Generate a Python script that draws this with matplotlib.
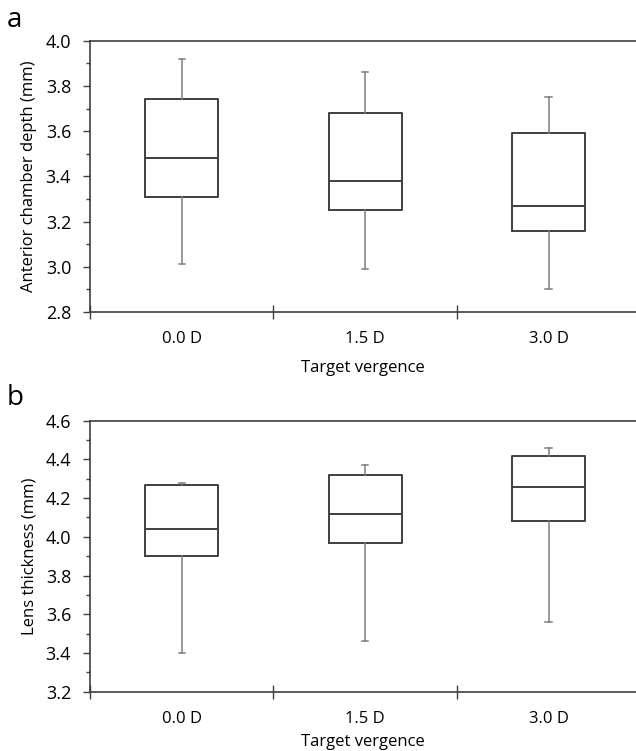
import matplotlib
matplotlib.use('Agg')
import matplotlib.pyplot as plt
from matplotlib.ticker import MultipleLocator, FixedLocator, NullFormatter

plt.rcParams['font.family'] = ['Open Sans', 'DejaVu Sans']

categories = ['0.0 D', '1.5 D', '3.0 D']

# anterior chamber depth (mm): whisker low, Q1, median, Q3, whisker high
acd_low = [3.01, 2.99, 2.90]
acd_q1 = [3.31, 3.25, 3.16]
acd_med = [3.48, 3.38, 3.27]
acd_q3 = [3.74, 3.68, 3.59]
acd_high = [3.92, 3.86, 3.75]

# lens thickness (mm)
lt_low = [3.40, 3.46, 3.56]
lt_q1 = [3.90, 3.97, 4.08]
lt_med = [4.04, 4.12, 4.26]
lt_q3 = [4.27, 4.32, 4.42]
lt_high = [4.28, 4.37, 4.46]

box_col = '#3f3f3f'
whisk_col = '#7f7f7f'


def make_stats(low, q1, med, q3, high):
    stats = []
    for i in range(len(categories)):
        stats.append({'label': categories[i], 'whislo': low[i], 'q1': q1[i],
                      'med': med[i], 'q3': q3[i], 'whishi': high[i], 'fliers': []})
    return stats


def draw_panel(ax, stats, ylim, ylabel, letter, letter_y, xpad):
    ax.bxp(stats, positions=[1, 2, 3], widths=0.4, capwidths=0.035,
           showfliers=False, patch_artist=False,
           boxprops=dict(color=box_col, linewidth=1.4),
           medianprops=dict(color=box_col, linewidth=1.4),
           whiskerprops=dict(color=whisk_col, linewidth=1.1),
           capprops=dict(color=whisk_col, linewidth=1.1))
    ax.set_xlim(0.5, 3.476)
    ax.set_ylim(*ylim)
    ax.yaxis.set_major_locator(MultipleLocator(0.2))
    ax.yaxis.set_minor_locator(MultipleLocator(0.1))
    ax.yaxis.set_major_formatter(plt.FormatStrFormatter('%.1f'))
    ax.tick_params(axis='y', which='major', direction='out', length=5, width=1,
                   color=box_col, labelsize=13, pad=8.5)
    ax.tick_params(axis='y', which='minor', direction='out', length=3, width=1,
                   color=box_col)
    ax.xaxis.set_major_locator(FixedLocator([1, 2, 3]))
    ax.set_xticklabels(categories)
    ax.xaxis.set_minor_locator(FixedLocator([0.5, 1.5, 2.5]))
    ax.xaxis.set_minor_formatter(NullFormatter())
    ax.tick_params(axis='x', which='major', length=0, labelsize=12, pad=14)
    ax.tick_params(axis='x', which='minor', direction='inout', length=10,
                   width=1, color=box_col)
    ax.spines['right'].set_visible(False)
    for s in ['left', 'bottom', 'top']:
        ax.spines[s].set_color(box_col)
        ax.spines[s].set_linewidth(1.2)
    ax.set_ylabel(ylabel, fontsize=12, labelpad=6)
    ax.set_xlabel('Target vergence', fontsize=12, labelpad=xpad)
    ax.text(-0.152, letter_y, letter, transform=ax.transAxes, fontsize=20,
            ha='left', va='baseline')


fig = plt.figure(figsize=(6.36, 7.51), dpi=100)
ax1 = fig.add_axes([0.1415, 0.5846, 0.8585, 0.3612])
ax2 = fig.add_axes([0.1415, 0.0790, 0.8585, 0.3608])

draw_panel(ax1, make_stats(acd_low, acd_q1, acd_med, acd_q3, acd_high),
           (2.8, 4.0), 'Anterior chamber depth (mm)', 'a', 1.05, 9)
draw_panel(ax2, make_stats(lt_low, lt_q1, lt_med, lt_q3, lt_high),
           (3.2, 4.6), 'Lens thickness (mm)', 'b', 1.057, 5)

fig.savefig('out.png', dpi=100)
